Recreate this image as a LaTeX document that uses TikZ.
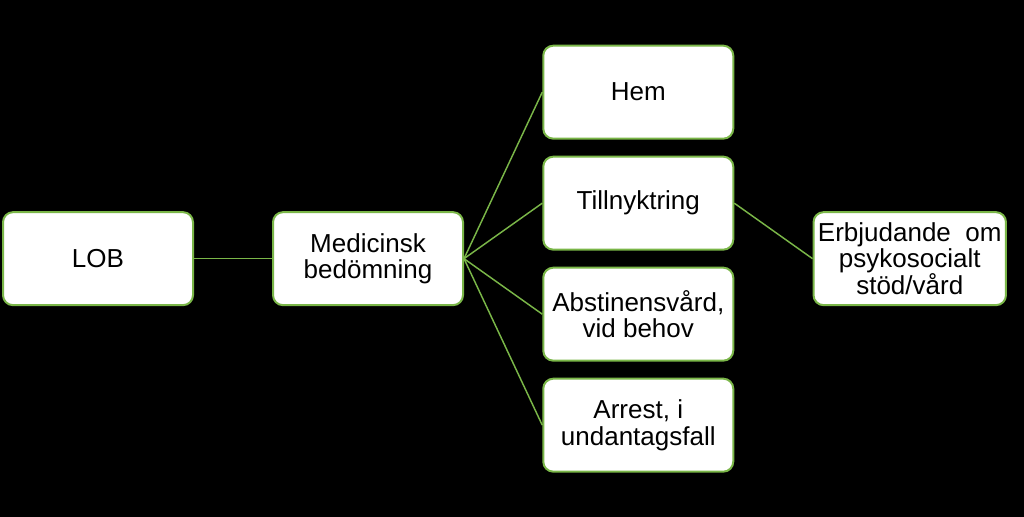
\documentclass[tikz,border=0pt]{standalone}
\usepackage{fontspec}
\setmainfont{Liberation Sans}
\usetikzlibrary{positioning}
\definecolor{leaf}{RGB}{122,182,72}

\begin{document}
\begin{tikzpicture}[
box/.style={draw=leaf,line width=1.5pt,fill=white,rounded corners=7.5pt,
    minimum width=142.5pt,minimum height=69.75pt,align=center,
    font=\fontsize{19.5}{20}\selectfont},
link/.style={draw=leaf,line width=1.1pt}]
\fill[black] (0,0) rectangle (768pt,-387.75pt);
\useasboundingbox (0,0) rectangle (768pt,-387.75pt);
\node (lob) [box] at (73.5pt,-194pt) {LOB};
\node (med) [box,right=58.5pt of lob] {Medicinsk\\bedömning};
\matrix (kids) [right=58.5pt of med,row sep=12pt,inner sep=0pt] {
\node (hem) [box] {Hem};
\\
\node (till) [box] {Tillnyktring};
\\
\node (abst) [box] {Abstinensvård,\\vid behov};
\\
\node (arr) [box] {Arrest, i\\undantagsfall};
\\
};
\node (erb) [box,right=58.5pt of kids] {Erbjudande\ \ om\\psykosocialt\\stöd/vård};
% connectors
\draw[link] (lob.east) -- (med.west);
\foreach \k in {hem,till,abst,arr}
  \draw[link] (med.east) -- (\k.west);
\draw[link] (till.east) -- (erb.west);
\end{tikzpicture}
\end{document}
